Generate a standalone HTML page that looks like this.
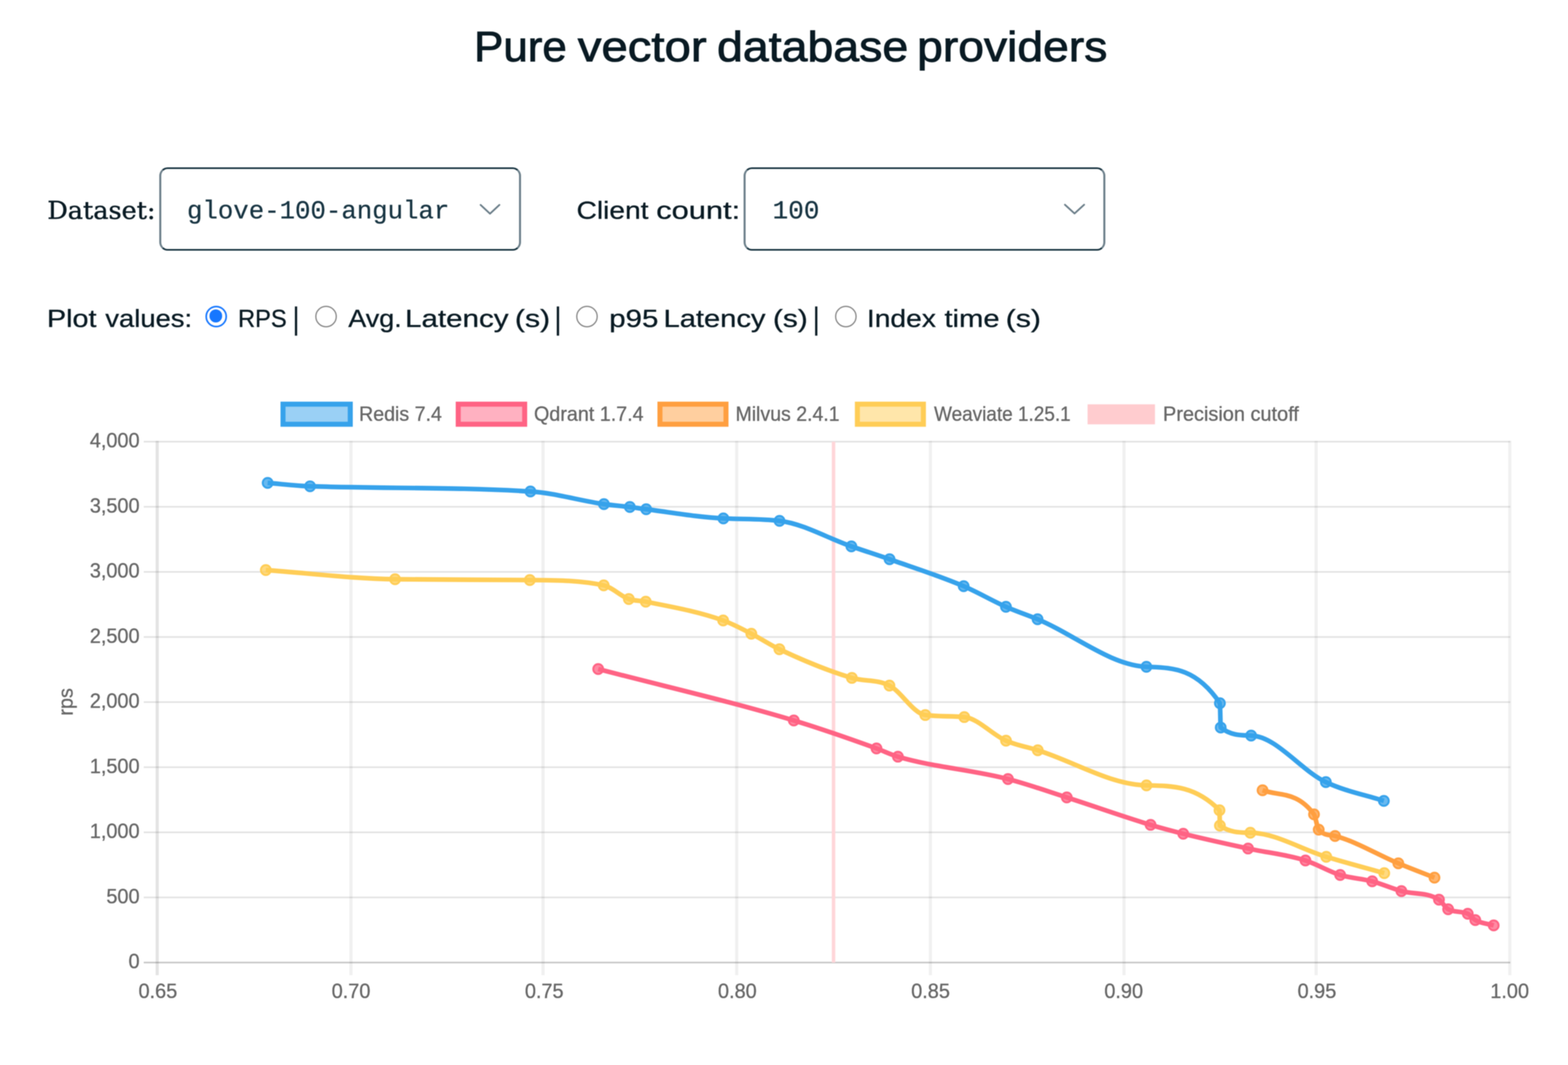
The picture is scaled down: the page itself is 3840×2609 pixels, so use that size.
<!DOCTYPE html>
<html lang="en"><head><meta charset="utf-8"><title>Pure vector database providers</title>
<style>
html,body{margin:0;padding:0;background:#fff}
body{width:3840px;height:2609px;position:relative;overflow:hidden;font-family:"Liberation Sans",sans-serif}
.t{position:absolute;white-space:pre;display:block;transform-origin:0 50%;margin:0;padding:0}
.grp{margin:0;padding:0;font-weight:normal;font-size:0;position:static}
.sel{position:absolute;box-sizing:border-box;border:4.6px solid #16323f;border-left:5.6px solid #6d808b;border-right:5.6px solid #6d808b;border-radius:20.5px;background:#fff}
.chev{position:absolute;pointer-events:none}
.radio{position:absolute;box-sizing:border-box;width:53px;height:53px;border-radius:50%;border:3.4px solid #858585;background:#fff}
.radio.on{border-color:#1677ff;border-width:4.8px}
.radio.on i{position:absolute;left:5.9px;top:5.9px;width:31.6px;height:31.6px;border-radius:50%;background:#1677ff}
#page{position:absolute;left:0;top:0;width:3840px;height:2609px;filter:blur(1.0px)}
#chart{position:absolute;left:0;top:0}
#chart text{white-space:pre;stroke:#666;stroke-width:0.7px}

</style></head><body><div id="page">
<svg id="chart" width="3840" height="2609" viewBox="0 0 3840 2609">
<g id="grid" fill="none">
<line x1="352.0" x2="3698.5" y1="1082.0" y2="1082.0" stroke="rgba(0,0,0,0.108)" stroke-width="4.1"/>
<line x1="352.0" x2="3698.5" y1="1241.5" y2="1241.5" stroke="rgba(0,0,0,0.108)" stroke-width="4.1"/>
<line x1="352.0" x2="3698.5" y1="1401.0" y2="1401.0" stroke="rgba(0,0,0,0.108)" stroke-width="4.1"/>
<line x1="352.0" x2="3698.5" y1="1560.5" y2="1560.5" stroke="rgba(0,0,0,0.108)" stroke-width="4.1"/>
<line x1="352.0" x2="3698.5" y1="1720.0" y2="1720.0" stroke="rgba(0,0,0,0.108)" stroke-width="4.1"/>
<line x1="352.0" x2="3698.5" y1="1879.5" y2="1879.5" stroke="rgba(0,0,0,0.108)" stroke-width="4.1"/>
<line x1="352.0" x2="3698.5" y1="2039.0" y2="2039.0" stroke="rgba(0,0,0,0.108)" stroke-width="4.1"/>
<line x1="352.0" x2="3698.5" y1="2198.5" y2="2198.5" stroke="rgba(0,0,0,0.108)" stroke-width="4.1"/>
<line x1="352.0" x2="3698.5" y1="2358.0" y2="2358.0" stroke="rgba(0,0,0,0.215)" stroke-width="4.1"/>
<line x1="385.0" x2="385.0" y1="1080.0" y2="2389.0" stroke="rgba(0,0,0,0.11)" stroke-width="7.6"/>
<line x1="859.5" x2="859.5" y1="1080.0" y2="2389.0" stroke="rgba(0,0,0,0.058)" stroke-width="7.8"/>
<line x1="1329.9" x2="1329.9" y1="1080.0" y2="2389.0" stroke="rgba(0,0,0,0.058)" stroke-width="7.8"/>
<line x1="1804.2" x2="1804.2" y1="1080.0" y2="2389.0" stroke="rgba(0,0,0,0.058)" stroke-width="7.8"/>
<line x1="2278.5" x2="2278.5" y1="1080.0" y2="2389.0" stroke="rgba(0,0,0,0.058)" stroke-width="7.8"/>
<line x1="2752.7" x2="2752.7" y1="1080.0" y2="2389.0" stroke="rgba(0,0,0,0.058)" stroke-width="7.8"/>
<line x1="3223.2" x2="3223.2" y1="1080.0" y2="2389.0" stroke="rgba(0,0,0,0.058)" stroke-width="7.8"/>
<line x1="3697.5" x2="3697.5" y1="1080.0" y2="2389.0" stroke="rgba(0,0,0,0.058)" stroke-width="7.8"/>
</g>
<line id="cutoff" x1="2041.3" x2="2041.3" y1="1082.0" y2="2358.0" stroke="#ffd6d9" stroke-width="8.6"/>
<g id="s-weaviate">
<path d="M651.0 1396.5C756.5 1404.0 862.0 1417.7 967.5 1419.0C1077.5 1420.4 1187.5 1420.0 1297.5 1421.0C1357.8 1421.5 1418.2 1421.0 1478.5 1434.0C1499.0 1438.4 1519.5 1460.3 1540.0 1467.5C1553.8 1472.4 1567.7 1471.2 1581.5 1474.0C1644.7 1486.6 1707.8 1497.5 1771.0 1520.0C1794.0 1528.2 1817.0 1540.7 1840.0 1552.5C1862.9 1564.2 1885.8 1579.6 1908.7 1590.5C1967.9 1618.6 2027.0 1643.0 2086.2 1660.7C2116.9 1669.9 2147.5 1663.8 2178.2 1679.5C2207.5 1694.5 2236.7 1747.9 2266.0 1751.7C2297.8 1755.8 2329.7 1753.8 2361.5 1756.7C2395.6 1759.8 2429.6 1799.7 2463.7 1814.5C2489.6 1825.8 2515.6 1829.9 2541.5 1838.0C2630.2 1865.7 2719.0 1922.4 2807.7 1924.0C2867.3 1925.1 2926.9 1924.0 2986.5 1985.0C2986.8 1985.3 2987.2 2022.3 2987.5 2022.5C3012.3 2040.0 3037.2 2039.7 3062.0 2040.0C3124.0 2040.6 3186.0 2080.4 3248.0 2099.0C3295.3 2113.2 3342.7 2125.7 3390.0 2139.0" fill="none" stroke="rgb(255,205,86)" stroke-width="11.4" stroke-linecap="butt" stroke-linejoin="round"/>
<g fill="rgba(255,205,86,0.75)" stroke="rgb(255,205,86)" stroke-width="4.6">
<circle cx="651.0" cy="1396.5" r="12.1"/>
<circle cx="967.5" cy="1419.0" r="12.1"/>
<circle cx="1297.5" cy="1421.0" r="12.1"/>
<circle cx="1478.5" cy="1434.0" r="12.1"/>
<circle cx="1540.0" cy="1467.5" r="12.1"/>
<circle cx="1581.5" cy="1474.0" r="12.1"/>
<circle cx="1771.0" cy="1520.0" r="12.1"/>
<circle cx="1840.0" cy="1552.5" r="12.1"/>
<circle cx="1908.7" cy="1590.5" r="12.1"/>
<circle cx="2086.2" cy="1660.7" r="12.1"/>
<circle cx="2178.2" cy="1679.5" r="12.1"/>
<circle cx="2266.0" cy="1751.7" r="12.1"/>
<circle cx="2361.5" cy="1756.7" r="12.1"/>
<circle cx="2463.7" cy="1814.5" r="12.1"/>
<circle cx="2541.5" cy="1838.0" r="12.1"/>
<circle cx="2807.7" cy="1924.0" r="12.1"/>
<circle cx="2986.5" cy="1985.0" r="12.1"/>
<circle cx="2987.5" cy="2022.5" r="12.1"/>
<circle cx="3062.0" cy="2040.0" r="12.1"/>
<circle cx="3248.0" cy="2099.0" r="12.1"/>
<circle cx="3390.0" cy="2139.0" r="12.1"/>
</g></g>
<g id="s-milvus">
<path d="M3092.0 1936.0C3134.0 1950.4 3176.0 1937.8 3218.0 1995.0C3221.8 2000.2 3225.7 2028.2 3229.5 2032.5C3242.8 2047.6 3256.2 2044.6 3269.5 2048.0C3321.2 2061.2 3372.8 2093.6 3424.5 2115.0C3454.0 2127.2 3483.5 2138.3 3513.0 2150.0" fill="none" stroke="rgb(255,159,64)" stroke-width="11.4" stroke-linecap="butt" stroke-linejoin="round"/>
<g fill="rgba(255,159,64,0.75)" stroke="rgb(255,159,64)" stroke-width="4.6">
<circle cx="3092.0" cy="1936.0" r="12.1"/>
<circle cx="3218.0" cy="1995.0" r="12.1"/>
<circle cx="3229.5" cy="2032.5" r="12.1"/>
<circle cx="3269.5" cy="2048.0" r="12.1"/>
<circle cx="3424.5" cy="2115.0" r="12.1"/>
<circle cx="3513.0" cy="2150.0" r="12.1"/>
</g></g>
<g id="s-qdrant">
<path d="M1465.0 1639.0C1624.7 1681.0 1784.3 1717.0 1944.0 1765.0C2011.5 1785.3 2079.0 1809.1 2146.5 1833.5C2164.0 1839.8 2181.5 1848.6 2199.0 1853.7C2288.8 1880.1 2378.7 1885.3 2468.5 1908.5C2516.5 1920.9 2564.5 1938.1 2612.5 1953.5C2680.9 1975.4 2749.3 2000.2 2817.7 2020.7C2844.4 2028.7 2871.0 2035.8 2897.7 2042.5C2950.6 2055.7 3003.6 2067.1 3056.5 2078.7C3103.3 2088.9 3150.2 2093.3 3197.0 2108.0C3225.3 2116.9 3253.7 2134.8 3282.0 2143.5C3308.2 2151.5 3334.3 2152.0 3360.5 2159.0C3384.3 2165.4 3408.2 2176.4 3432.0 2183.0C3462.7 2191.5 3493.3 2184.8 3524.0 2204.0C3531.5 2208.7 3539.0 2223.5 3546.5 2227.5C3562.5 2235.9 3578.5 2231.4 3594.5 2238.5C3600.7 2241.2 3606.8 2250.5 3613.0 2254.0C3628.0 2262.5 3643.0 2262.7 3658.0 2267.0" fill="none" stroke="rgb(255,99,132)" stroke-width="11.4" stroke-linecap="butt" stroke-linejoin="round"/>
<g fill="rgba(255,99,132,0.75)" stroke="rgb(255,99,132)" stroke-width="4.6">
<circle cx="1465.0" cy="1639.0" r="12.1"/>
<circle cx="1944.0" cy="1765.0" r="12.1"/>
<circle cx="2146.5" cy="1833.5" r="12.1"/>
<circle cx="2199.0" cy="1853.7" r="12.1"/>
<circle cx="2468.5" cy="1908.5" r="12.1"/>
<circle cx="2612.5" cy="1953.5" r="12.1"/>
<circle cx="2817.7" cy="2020.7" r="12.1"/>
<circle cx="2897.7" cy="2042.5" r="12.1"/>
<circle cx="3056.5" cy="2078.7" r="12.1"/>
<circle cx="3197.0" cy="2108.0" r="12.1"/>
<circle cx="3282.0" cy="2143.5" r="12.1"/>
<circle cx="3360.5" cy="2159.0" r="12.1"/>
<circle cx="3432.0" cy="2183.0" r="12.1"/>
<circle cx="3524.0" cy="2204.0" r="12.1"/>
<circle cx="3546.5" cy="2227.5" r="12.1"/>
<circle cx="3594.5" cy="2238.5" r="12.1"/>
<circle cx="3613.0" cy="2254.0" r="12.1"/>
<circle cx="3658.0" cy="2267.0" r="12.1"/>
</g></g>
<g id="s-redis">
<path d="M655.5 1183.0C690.1 1185.8 724.7 1190.2 759.3 1191.3C939.2 1197.2 1119.1 1192.8 1299.0 1204.0C1359.0 1207.7 1419.0 1226.5 1479.0 1235.0C1500.2 1238.0 1521.3 1239.4 1542.5 1242.0C1555.8 1243.7 1569.2 1245.8 1582.5 1247.5C1645.5 1255.6 1708.5 1266.9 1771.5 1270.0C1817.3 1272.3 1863.2 1270.4 1909.0 1276.0C1967.7 1283.1 2026.3 1318.2 2085.0 1338.5C2116.2 1349.3 2147.3 1359.1 2178.5 1370.0C2239.0 1391.2 2299.5 1410.2 2360.0 1436.0C2394.5 1450.7 2429.0 1471.3 2463.5 1486.5C2489.3 1497.9 2515.2 1506.3 2541.0 1517.0C2629.8 1553.9 2718.7 1629.4 2807.5 1633.5C2867.5 1636.2 2927.5 1633.5 2987.5 1722.7C2988.2 1723.7 2988.8 1781.8 2989.5 1782.3C3014.3 1802.0 3039.2 1801.4 3064.0 1802.0C3125.0 1803.4 3186.0 1887.1 3247.0 1916.0C3294.3 1938.4 3341.7 1946.7 3389.0 1962.0" fill="none" stroke="rgb(54,162,235)" stroke-width="11.4" stroke-linecap="butt" stroke-linejoin="round"/>
<g fill="rgba(54,162,235,0.75)" stroke="rgb(54,162,235)" stroke-width="4.6">
<circle cx="655.5" cy="1183.0" r="12.1"/>
<circle cx="759.3" cy="1191.3" r="12.1"/>
<circle cx="1299.0" cy="1204.0" r="12.1"/>
<circle cx="1479.0" cy="1235.0" r="12.1"/>
<circle cx="1542.5" cy="1242.0" r="12.1"/>
<circle cx="1582.5" cy="1247.5" r="12.1"/>
<circle cx="1771.5" cy="1270.0" r="12.1"/>
<circle cx="1909.0" cy="1276.0" r="12.1"/>
<circle cx="2085.0" cy="1338.5" r="12.1"/>
<circle cx="2178.5" cy="1370.0" r="12.1"/>
<circle cx="2360.0" cy="1436.0" r="12.1"/>
<circle cx="2463.5" cy="1486.5" r="12.1"/>
<circle cx="2541.0" cy="1517.0" r="12.1"/>
<circle cx="2807.5" cy="1633.5" r="12.1"/>
<circle cx="2987.5" cy="1722.7" r="12.1"/>
<circle cx="2989.5" cy="1782.3" r="12.1"/>
<circle cx="3064.0" cy="1802.0" r="12.1"/>
<circle cx="3247.0" cy="1916.0" r="12.1"/>
<circle cx="3389.0" cy="1962.0" r="12.1"/>
</g></g>
<g id="legend">
<rect x="693.1" y="990.1" width="164.7" height="49.2" fill="rgba(54,162,235,0.5)" stroke="rgb(54,162,235)" stroke-width="12.3"/>
<text x="879.2" y="1031.0" font-family="'Liberation Sans',sans-serif" font-size="49.2" fill="#666" textLength="203.1" lengthAdjust="spacingAndGlyphs">Redis 7.4</text>
<rect x="1122.2" y="990.1" width="162.7" height="49.2" fill="rgba(255,99,132,0.5)" stroke="rgb(255,99,132)" stroke-width="12.3"/>
<text x="1307.8" y="1031.0" font-family="'Liberation Sans',sans-serif" font-size="49.2" fill="#666" textLength="268.4" lengthAdjust="spacingAndGlyphs">Qdrant 1.7.4</text>
<rect x="1616.2" y="990.1" width="161.7" height="49.2" fill="rgba(255,159,64,0.5)" stroke="rgb(255,159,64)" stroke-width="12.3"/>
<text x="1801.2" y="1031.0" font-family="'Liberation Sans',sans-serif" font-size="49.2" fill="#666" textLength="255.0" lengthAdjust="spacingAndGlyphs">Milvus 2.4.1</text>
<rect x="2099.7" y="990.1" width="161.7" height="49.2" fill="rgba(255,205,86,0.5)" stroke="rgb(255,205,86)" stroke-width="12.3"/>
<text x="2287.5" y="1031.0" font-family="'Liberation Sans',sans-serif" font-size="49.2" fill="#666" textLength="334.6" lengthAdjust="spacingAndGlyphs">Weaviate 1.25.1</text>
<rect x="2663.5" y="990.5" width="165" height="49" fill="#ffcccf"/>
<text x="2848.1" y="1031.0" font-family="'Liberation Sans',sans-serif" font-size="49.2" fill="#666" textLength="332.8" lengthAdjust="spacingAndGlyphs">Precision cutoff</text>
</g>
<g id="yticks">
<text x="219.9" y="1096.0" font-family="'Liberation Sans',sans-serif" font-size="49.2" fill="#666" textLength="121.9" lengthAdjust="spacingAndGlyphs">4,000</text>
<text x="219.9" y="1255.5" font-family="'Liberation Sans',sans-serif" font-size="49.2" fill="#666" textLength="121.9" lengthAdjust="spacingAndGlyphs">3,500</text>
<text x="219.9" y="1415.0" font-family="'Liberation Sans',sans-serif" font-size="49.2" fill="#666" textLength="121.9" lengthAdjust="spacingAndGlyphs">3,000</text>
<text x="219.9" y="1574.5" font-family="'Liberation Sans',sans-serif" font-size="49.2" fill="#666" textLength="121.9" lengthAdjust="spacingAndGlyphs">2,500</text>
<text x="219.9" y="1734.0" font-family="'Liberation Sans',sans-serif" font-size="49.2" fill="#666" textLength="121.9" lengthAdjust="spacingAndGlyphs">2,000</text>
<text x="219.9" y="1893.5" font-family="'Liberation Sans',sans-serif" font-size="49.2" fill="#666" textLength="121.9" lengthAdjust="spacingAndGlyphs">1,500</text>
<text x="219.9" y="2053.0" font-family="'Liberation Sans',sans-serif" font-size="49.2" fill="#666" textLength="121.9" lengthAdjust="spacingAndGlyphs">1,000</text>
<text x="260.5" y="2212.5" font-family="'Liberation Sans',sans-serif" font-size="49.2" fill="#666" textLength="81.3" lengthAdjust="spacingAndGlyphs">500</text>
<text x="314.7" y="2372.0" font-family="'Liberation Sans',sans-serif" font-size="49.2" fill="#666" textLength="27.1" lengthAdjust="spacingAndGlyphs">0</text>
</g>
<g id="xticks">
<text x="339.2" y="2445.0" font-family="'Liberation Sans',sans-serif" font-size="49.2" fill="#666" textLength="94.8" lengthAdjust="spacingAndGlyphs">0.65</text>
<text x="812.2" y="2445.0" font-family="'Liberation Sans',sans-serif" font-size="49.2" fill="#666" textLength="94.8" lengthAdjust="spacingAndGlyphs">0.70</text>
<text x="1285.4" y="2445.0" font-family="'Liberation Sans',sans-serif" font-size="49.2" fill="#666" textLength="94.8" lengthAdjust="spacingAndGlyphs">0.75</text>
<text x="1758.3" y="2445.0" font-family="'Liberation Sans',sans-serif" font-size="49.2" fill="#666" textLength="94.8" lengthAdjust="spacingAndGlyphs">0.80</text>
<text x="2231.5" y="2445.0" font-family="'Liberation Sans',sans-serif" font-size="49.2" fill="#666" textLength="94.8" lengthAdjust="spacingAndGlyphs">0.85</text>
<text x="2704.5" y="2445.0" font-family="'Liberation Sans',sans-serif" font-size="49.2" fill="#666" textLength="94.8" lengthAdjust="spacingAndGlyphs">0.90</text>
<text x="3177.7" y="2445.0" font-family="'Liberation Sans',sans-serif" font-size="49.2" fill="#666" textLength="94.8" lengthAdjust="spacingAndGlyphs">0.95</text>
<text x="3649.7" y="2445.0" font-family="'Liberation Sans',sans-serif" font-size="49.2" fill="#666" textLength="94.8" lengthAdjust="spacingAndGlyphs">1.00</text>
</g>
<text id="ytitle" transform="translate(178,1719.5) rotate(-90)" text-anchor="middle" font-family="'Liberation Sans',sans-serif" font-size="49.2" fill="#666" textLength="67.5" lengthAdjust="spacingAndGlyphs">rps</text>
</svg>
<div id="controls">
<h1 class="grp"><span class="t" style="left:1161.40px;top:62.81px;font:normal 103px/1 'Liberation Sans',sans-serif;color:#091a23;transform:scaleX(1.0435);-webkit-text-stroke:2.0px #091a23;">Pure</span> <span class="t" style="left:1415.00px;top:62.81px;font:normal 103px/1 'Liberation Sans',sans-serif;color:#091a23;transform:scaleX(1.1249);-webkit-text-stroke:2.0px #091a23;">vector</span> <span class="t" style="left:1756.45px;top:62.81px;font:normal 103px/1 'Liberation Sans',sans-serif;color:#091a23;transform:scaleX(1.1048);-webkit-text-stroke:2.0px #091a23;">database</span> <span class="t" style="left:2245.71px;top:62.81px;font:normal 103px/1 'Liberation Sans',sans-serif;color:#091a23;transform:scaleX(1.0995);-webkit-text-stroke:2.0px #091a23;">providers</span></h1>
<label class="grp"><span class="t" style="left:115.56px;top:486.09px;font:normal 59px/1 'DejaVu Serif',serif;color:#091a23;transform:scaleX(1.0586);-webkit-text-stroke:1.0px #091a23;">Dataset:</span></label>
<div class="sel" id="dataset" role="combobox" aria-expanded="false" style="left:390.0px;top:409.5px;width:885.5px;height:204.0px"></div>
<span class="t" style="left:457.91px;top:487.85px;font:normal 62.8px/1 'Liberation Mono',monospace;color:#163341;transform:scaleX(1.0028);-webkit-text-stroke:0.5px #163341;">glove-100-angular</span>
<svg class="chev" style="left:0;top:0" width="3840" height="700" viewBox="0 0 3840 700"><path d="M1177.0 502.0L1200.0 523.5L1223.0 502.0" fill="none" stroke="#6a7d88" stroke-width="4.4" stroke-linecap="round" stroke-linejoin="round"/></svg>
<label class="grp"><span class="t" style="left:1411.56px;top:483.52px;font:normal 62px/1 'Liberation Sans',sans-serif;color:#091a23;transform:scaleX(1.1112);-webkit-text-stroke:0.7px #091a23;">Client</span> <span class="t" style="left:1606.98px;top:483.52px;font:normal 62px/1 'Liberation Sans',sans-serif;color:#091a23;transform:scaleX(1.2176);-webkit-text-stroke:0.7px #091a23;">count:</span></label>
<div class="sel" id="clients" role="combobox" aria-expanded="false" style="left:1821.0px;top:409.5px;width:886.0px;height:204.0px"></div>
<span class="t" style="left:1891.54px;top:487.85px;font:normal 62.8px/1 'Liberation Mono',monospace;color:#163341;transform:scaleX(1.0154);-webkit-text-stroke:0.5px #163341;">100</span>
<svg class="chev" style="left:0;top:0" width="3840" height="700" viewBox="0 0 3840 700"><path d="M2608.0 501.5L2631.5 523.0L2655.0 501.5" fill="none" stroke="#6a7d88" stroke-width="4.4" stroke-linecap="round" stroke-linejoin="round"/></svg>
<label class="grp"><span class="t" style="left:114.87px;top:749.02px;font:normal 62px/1 'Liberation Sans',sans-serif;color:#091a23;transform:scaleX(1.1357);-webkit-text-stroke:0.7px #091a23;">Plot</span> <span class="t" style="left:257.50px;top:749.02px;font:normal 62px/1 'Liberation Sans',sans-serif;color:#091a23;transform:scaleX(1.0812);-webkit-text-stroke:0.7px #091a23;">values:</span></label>
<span class="radio on" role="radio" aria-checked="true" style="left:503.0px;top:748.5px"><i></i></span>
<label class="grp"><span class="t" style="left:583.37px;top:749.02px;font:normal 62px/1 'Liberation Sans',sans-serif;color:#091a23;transform:scaleX(0.9340);-webkit-text-stroke:0.7px #091a23;">RPS</span></label>
<span class="t" style="left:716.8px;top:748.17px;font:63px/1 'Liberation Sans',sans-serif;color:#091a23;transform:scaleY(1.2);transform-origin:50% 46%;-webkit-text-stroke:0.5px #091a23">|</span>
<span class="radio" role="radio" aria-checked="false" style="left:772.0px;top:748.5px"></span>
<label class="grp"><span class="t" style="left:852.50px;top:749.02px;font:normal 62px/1 'Liberation Sans',sans-serif;color:#091a23;transform:scaleX(1.0639);-webkit-text-stroke:0.7px #091a23;">Avg.</span> <span class="t" style="left:991.71px;top:749.02px;font:normal 62px/1 'Liberation Sans',sans-serif;color:#091a23;transform:scaleX(1.1664);-webkit-text-stroke:0.7px #091a23;">Latency</span> <span class="t" style="left:1260.56px;top:749.02px;font:normal 62px/1 'Liberation Sans',sans-serif;color:#091a23;transform:scaleX(1.1927);-webkit-text-stroke:0.7px #091a23;">(s)</span></label>
<span class="t" style="left:1358.3px;top:748.17px;font:63px/1 'Liberation Sans',sans-serif;color:#091a23;transform:scaleY(1.2);transform-origin:50% 46%;-webkit-text-stroke:0.5px #091a23">|</span>
<span class="radio" role="radio" aria-checked="false" style="left:1410.5px;top:748.5px"></span>
<label class="grp"><span class="t" style="left:1491.67px;top:749.02px;font:normal 62px/1 'Liberation Sans',sans-serif;color:#091a23;transform:scaleX(1.1629);-webkit-text-stroke:0.7px #091a23;">p95</span> <span class="t" style="left:1625.30px;top:749.02px;font:normal 62px/1 'Liberation Sans',sans-serif;color:#091a23;transform:scaleX(1.1499);-webkit-text-stroke:0.7px #091a23;">Latency</span> <span class="t" style="left:1893.12px;top:749.02px;font:normal 62px/1 'Liberation Sans',sans-serif;color:#091a23;transform:scaleX(1.1773);-webkit-text-stroke:0.7px #091a23;">(s)</span></label>
<span class="t" style="left:1990.8px;top:748.17px;font:63px/1 'Liberation Sans',sans-serif;color:#091a23;transform:scaleY(1.2);transform-origin:50% 46%;-webkit-text-stroke:0.5px #091a23">|</span>
<span class="radio" role="radio" aria-checked="false" style="left:2044.5px;top:748.5px"></span>
<label class="grp"><span class="t" style="left:2122.79px;top:749.02px;font:normal 62px/1 'Liberation Sans',sans-serif;color:#091a23;transform:scaleX(1.1136);-webkit-text-stroke:0.7px #091a23;">Index</span> <span class="t" style="left:2312.93px;top:749.02px;font:normal 62px/1 'Liberation Sans',sans-serif;color:#091a23;transform:scaleX(1.1527);-webkit-text-stroke:0.7px #091a23;">time</span> <span class="t" style="left:2463.06px;top:749.02px;font:normal 62px/1 'Liberation Sans',sans-serif;color:#091a23;transform:scaleX(1.1927);-webkit-text-stroke:0.7px #091a23;">(s)</span></label>
</div>
</div></body></html>
